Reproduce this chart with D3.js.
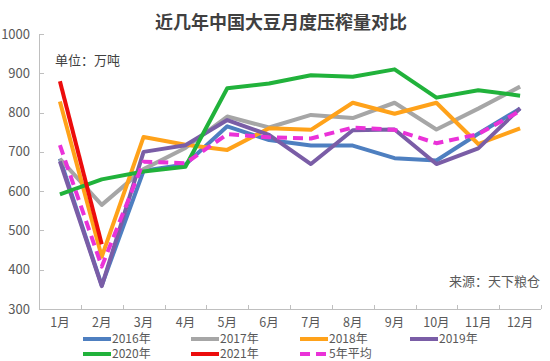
<!DOCTYPE html>
<html><head><meta charset="utf-8">
<script src="https://cdn.jsdelivr.net/npm/d3@7"></script>
<style>
body{margin:0;background:#fff;}
svg{display:block;font-family:"Noto Sans CJK SC","Noto Sans",sans-serif;}
</style></head>
<body><svg id="c" width="550" height="361"></svg>
<script>
const months = ["1月","2月","3月","4月","5月","6月","7月","8月","9月","10月","11月","12月"];
const yTicks = [300,400,500,600,700,800,900,1000];
const s2016 = [683,360,652,668,765,730,716,716,684,678,746,810];
const s2017 = [682,565,656,710,790,762,794,786,825,757,810,866];
const s2018 = [828,433,738,718,705,760,756,825,797,825,720,760];
const s2019 = [676,358,700,717,781,743,669,755,757,669,709,811];
const s2020 = [592,630,650,662,862,874,895,891,910,838,857,843];
const s2021 = [880,465];
const avg5 = [717,408,675,671,745,737,734,762,756,722,745,804];
const seriesNames = ["2016年","2017年","2018年","2019年","2020年","2021年","5年平均"];
const seriesColors = ["#4e7fc0","#a6a6a6","#ffa21a","#7a5da6","#21b23b","#ec0c0c","#ea32d8"];

const series = [s2016,s2017,s2018,s2019,s2020,s2021,avg5].map((v,i)=>({name:seriesNames[i],color:seriesColors[i],values:v,dashed:i===6}));

const svg = d3.select("#c");
const x = d3.scaleBand().domain(months).range([39,541]);
const y = d3.scaleLinear().domain([300,1000]).range([309,34]);
const cx = m => x(m) + x.bandwidth()/2;

// title
svg.append("text").attr("x",281).attr("y",29).attr("text-anchor","middle")
  .attr("font-size",18).attr("font-weight","bold").attr("fill","#404040").text("近几年中国大豆月度压榨量对比");

// axes
const axisColor = "#bfbfbf";
svg.append("line").attr("x1",39.5).attr("x2",39.5).attr("y1",y(1000)).attr("y2",y(300)).attr("stroke",axisColor);
svg.append("line").attr("x1",39).attr("x2",541).attr("y1",y(300)+0.5).attr("y2",y(300)+0.5).attr("stroke",axisColor);
svg.selectAll(".yt").data(yTicks).enter().append("line")
  .attr("x1",39).attr("x2",44).attr("y1",d=>Math.round(y(d))+0.5).attr("y2",d=>Math.round(y(d))+0.5).attr("stroke",axisColor);
svg.selectAll(".yl").data(yTicks).enter().append("text")
  .attr("x",30).attr("y",d=>y(d)+4.5).attr("text-anchor","end").attr("font-size",13).attr("fill","#595959").text(d=>d);
const bounds = months.slice(1).map(m=>x(m)).concat([541]);
svg.selectAll(".xt").data(bounds).enter().append("line")
  .attr("x1",d=>Math.round(d)+0.5).attr("x2",d=>Math.round(d)+0.5).attr("y1",y(300)).attr("y2",y(300)-4).attr("stroke",axisColor);
svg.selectAll(".xl").data(months).enter().append("text")
  .attr("x",d=>cx(d)).attr("y",327).attr("text-anchor","middle").attr("font-size",12.5).attr("fill","#595959").text(d=>d);

// annotations
svg.append("text").attr("x",55).attr("y",65).attr("font-size",13).attr("fill","#404040").text("单位：万吨");
svg.append("text").attr("x",540).attr("y",286).attr("text-anchor","end").attr("font-size",13).attr("fill","#595959").text("来源：天下粮仓");

// lines
const line = d3.line().x((d,i)=>cx(months[i])).y(d=>y(d));
series.forEach(s=>{
  svg.append("path").attr("d",line(s.values)).attr("fill","none")
    .attr("stroke",s.color).attr("stroke-width",4).attr("stroke-linejoin","round")
    .attr("stroke-dasharray",s.dashed?"10,6":null);
});

// legend
const legPos = [[83,339],[191,339],[300,339],[410,339],[83,354],[191,354],[300,354]];
series.forEach((s,i)=>{
  const [lx,ly] = legPos[i];
  svg.append("line").attr("x1",lx).attr("x2",lx+28).attr("y1",ly).attr("y2",ly)
    .attr("stroke",s.color).attr("stroke-width",4).attr("stroke-dasharray",s.dashed?"10,6":null);
  svg.append("text").attr("x",lx+29).attr("y",ly+4.3).attr("font-size",12).attr("fill","#595959").text(s.name);
});
</script></body></html>
